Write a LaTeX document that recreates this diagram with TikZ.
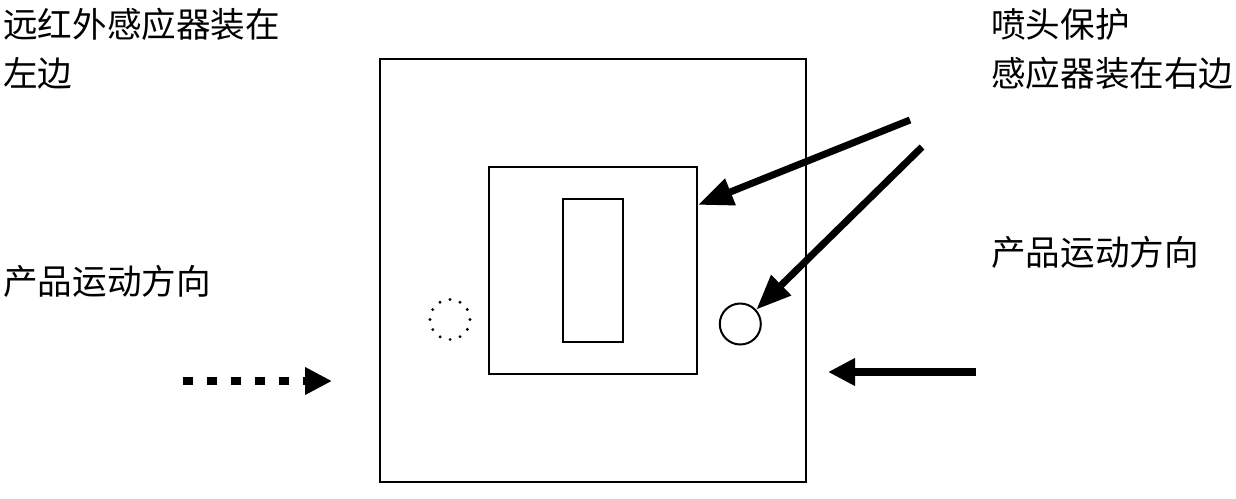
\documentclass[tikz,border=0pt]{standalone}
\usepackage{fontspec}
\newfontfamily\cjk{Noto Sans CJK SC}
\usetikzlibrary{arrows.meta}

\begin{document}
\begin{tikzpicture}[x=1pt, y=-1pt,
 box/.style = {draw, line width=2pt, inner sep=0pt},
 snsr/.style = {circle, draw, line width=2pt, inner sep=0pt,
      minimum size=41pt},
 dotring/.style = {circle, draw, line width=3.2pt, inner sep=0pt,
      minimum size=40pt, line cap=round, dash pattern=on 0pt off 10.47pt},
 lbl/.style = {anchor=north west, inner sep=0pt, align=left,
      font=\cjk\fontsize{34.6}{49}\selectfont},
 flow/.style = {line width=7.5pt, -{Triangle[length=27pt,width=26pt]}},
 ptr/.style = {line width=7pt, -{Triangle[length=35pt,width=27pt]}}
                    ]
\useasboundingbox (0,0) rectangle (1236,498);
\node (frame) [box, minimum width=426pt, minimum height=423pt] at (593,270.7) {};
\node (mid)   [box, minimum width=208pt, minimum height=207pt] at (593,270.5) {};
\node (nozzle)[box, minimum width=60pt,  minimum height=143pt] at (592.7,270.8) {};
\node (irL)   [dotring] at (450,319.5) {};
\node (snsrR) [snsr]    at (740.3,324) {};
 %
\node (tL)  [lbl] at (3,8)     {远红外感应器装在\\左边};
\node (tR)  [lbl] at (991,8)   {喷头保护\\感应器装在右边};
\node (mvL) [lbl] at (3,265)   {产品运动方向};
\node (mvR) [lbl] at (991,236) {产品运动方向};
 %
\coordinate (p1) at (910,120);
\coordinate (p2) at (922,147);
\coordinate (fL1) at (183,381);
\coordinate (fL2) at (332,381);
\coordinate (fR1) at (976,372);
\coordinate (fR2) at (828,372);
 %
\path   (p1) edge [ptr] (mid.32)
        (p2) edge [ptr] (snsrR.42)
        (fL1) edge [flow, dash pattern=on 10pt off 14pt] (fL2)
        (fR1) edge [flow] (fR2);
\end{tikzpicture}
\end{document}
